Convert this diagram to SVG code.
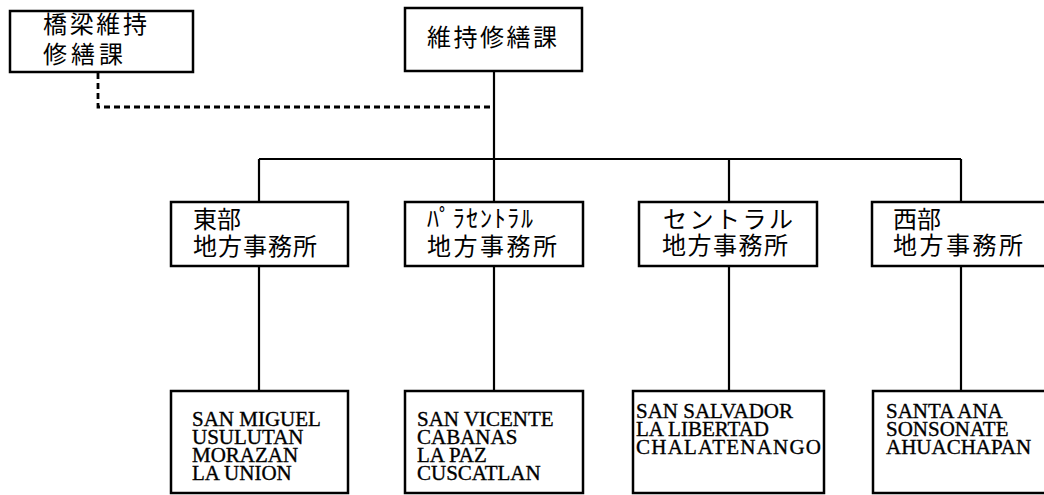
<svg xmlns="http://www.w3.org/2000/svg" width="1044" height="495" viewBox="0 0 1044 495">
<style>
.box{fill:#fff;stroke:#000;stroke-width:2.5}
.jp{font-family:"Noto Sans CJK JP","Noto Sans CJK SC",sans-serif;font-size:24px;fill:#000}
.en{font-family:"Liberation Serif",serif;font-size:21px;fill:#000;stroke:#000;stroke-width:0.35}
.ln{fill:none;stroke:#000;stroke-width:2.2}
.dash{fill:none;stroke:#000;stroke-width:2.8;stroke-dasharray:6 4}
</style>
<rect width="1044" height="495" fill="#fff"/>
<g id="connectors">
<path class="dash" d="M98 73 V107 H493"/>
<path class="ln" d="M494 71 V202 M259 159 H961 M259 159 V202 M729 159 V202 M961 159 V202"/>
<path class="ln" d="M259 266 V391 M494 266 V391 M729 266 V391 M961 266 V391"/>
</g>
<g id="bridge">
<rect class="box" x="10" y="11" width="183" height="61"/>
<text class="jp"><tspan x="43" y="33" textLength="104">橋梁維持</tspan><tspan x="43" y="63" textLength="80">修繕課</tspan></text>
</g>
<g id="maint">
<rect class="box" x="405" y="8" width="177" height="63"/>
<text class="jp" x="427" y="46" textLength="130">維持修繕課</text>
</g>
<g id="east">
<rect class="box" x="171" y="202" width="177" height="64"/>
<text class="jp"><tspan x="193" y="228">東部</tspan><tspan x="193" y="255" textLength="124">地方事務所</tspan></text>
</g>
<g id="paracentral">
<rect class="box" x="405" y="202" width="178" height="64"/>
<text class="jp"><tspan x="427" y="227" textLength="106">ﾊﾟﾗｾﾝﾄﾗﾙ</tspan><tspan x="427" y="255" textLength="130">地方事務所</tspan></text>
</g>
<g id="central">
<rect class="box" x="639" y="202" width="178" height="64"/>
<text class="jp"><tspan x="663" y="228" textLength="130">セントラル</tspan><tspan x="662" y="254" textLength="126">地方事務所</tspan></text>
</g>
<g id="west">
<rect class="box" x="872" y="202" width="180" height="64"/>
<text class="jp"><tspan x="893" y="228">西部</tspan><tspan x="893" y="254" textLength="130">地方事務所</tspan></text>
</g>
<g id="east-deps">
<rect class="box" x="171" y="391" width="177" height="102"/>
<text class="en"><tspan x="192" y="426">SAN MIGUEL</tspan><tspan x="192" y="444">USULUTAN</tspan><tspan x="192" y="462">MORAZAN</tspan><tspan x="192" y="480">LA UNION</tspan></text>
</g>
<g id="paracentral-deps">
<rect class="box" x="405" y="391" width="178" height="102"/>
<text class="en"><tspan x="417" y="426">SAN VICENTE</tspan><tspan x="417" y="444">CABANAS</tspan><tspan x="417" y="462">LA PAZ</tspan><tspan x="417" y="480">CUSCATLAN</tspan></text>
</g>
<g id="central-deps">
<rect class="box" x="633" y="391" width="191" height="102"/>
<text class="en"><tspan x="636" y="418">SAN SALVADOR</tspan><tspan x="636" y="436">LA LIBERTAD</tspan><tspan x="636" y="454" textLength="185">CHALATENANGO</tspan></text>
</g>
<g id="west-deps">
<rect class="box" x="873" y="391" width="180" height="102"/>
<text class="en"><tspan x="886" y="418">SANTA ANA</tspan><tspan x="886" y="436">SONSONATE</tspan><tspan x="886" y="454">AHUACHAPAN</tspan></text>
</g>
</svg>
